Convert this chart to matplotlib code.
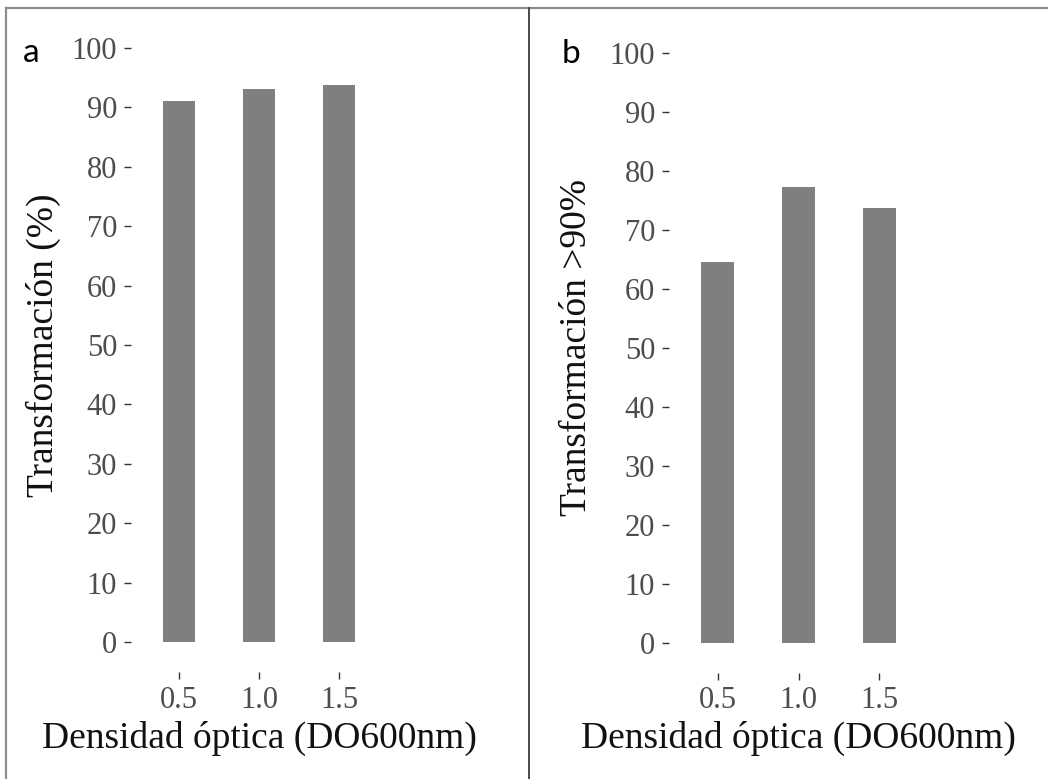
import matplotlib
matplotlib.use('Agg')
import matplotlib.pyplot as plt
from matplotlib.lines import Line2D

# === DATA ===
densidad = [0.5, 1.0, 1.5]
densidad_labels = ['0.5', '1.0', '1.5']
transformacion_pct = [91.0, 93.1, 93.8]      # panel a
transformacion_90 = [64.5, 77.3, 73.8]       # panel b
yticks = list(range(0, 101, 10))

BAR_COLOR = '#7f7f7f'
W, H = 1048, 779

plt.rcParams['font.family'] = ['Liberation Serif', 'DejaVu Serif']

fig = plt.figure(figsize=(W / 100, H / 100), dpi=100)


def px_axes(left, top, right, bottom):
    # pixel box (from top-left) -> figure fraction
    return fig.add_axes([left / W, 1 - bottom / H, (right - left) / W, (bottom - top) / H])


def draw_panel(ax, values, ylabel, ylabel_x):
    ax.bar(densidad, values, width=0.2, color=BAR_COLOR)
    ax.set_xlim(0.2, 1.8)
    ax.set_ylim(-5, 105)
    ax.set_yticks(yticks)
    ax.set_xticks(densidad)
    ax.set_xticklabels(densidad_labels)
    for s in ax.spines.values():
        s.set_visible(False)
    ax.tick_params(axis='y', length=5, width=1, color='#333333', pad=5,
                   labelsize=22, labelcolor='#4d4d4d')
    ax.tick_params(axis='x', length=5, width=1, color='#333333', pad=5,
                   labelsize=22, labelcolor='#4d4d4d')
    ax.set_xlabel('Densidad óptica (DO600nm)', fontsize=27, color='#111111', va='center')
    ax.xaxis.set_label_coords(0.5, -0.101)
    ax.set_ylabel(ylabel, fontsize=27, color='#111111', va='center')
    ax.yaxis.set_label_coords(ylabel_x, 0.5)


ax_a = px_axes(131, 18, 387, 672)
draw_panel(ax_a, transformacion_pct, 'Transformación (%)', (43 - 131) / 256)

ax_b = px_axes(669, 23.5, 928, 672.5)
draw_panel(ax_b, transformacion_90, 'Transformación >90%', (577 - 669) / 259)

# panel letters
fig.text(23 / W, 1 - 62 / H, 'a', fontsize=24, family='Lato', va='baseline', color='black')
fig.text(562 / W, 1 - 63 / H, 'b', fontsize=24, family='Lato', va='baseline', color='black')

# frame lines (top, left, divider)
fig.add_artist(Line2D([6 / W, 1], [1 - 8 / H, 1 - 8 / H], transform=fig.transFigure,
                      color='#8c8c8c', lw=1.6))
fig.add_artist(Line2D([6 / W, 6 / W], [0, 1 - 8 / H], transform=fig.transFigure,
                      color='#8c8c8c', lw=1.6))
fig.add_artist(Line2D([529 / W, 529 / W], [0, 1 - 8 / H], transform=fig.transFigure,
                      color='#4a4a4a', lw=1.4))

fig.savefig('out.png', dpi=100)
